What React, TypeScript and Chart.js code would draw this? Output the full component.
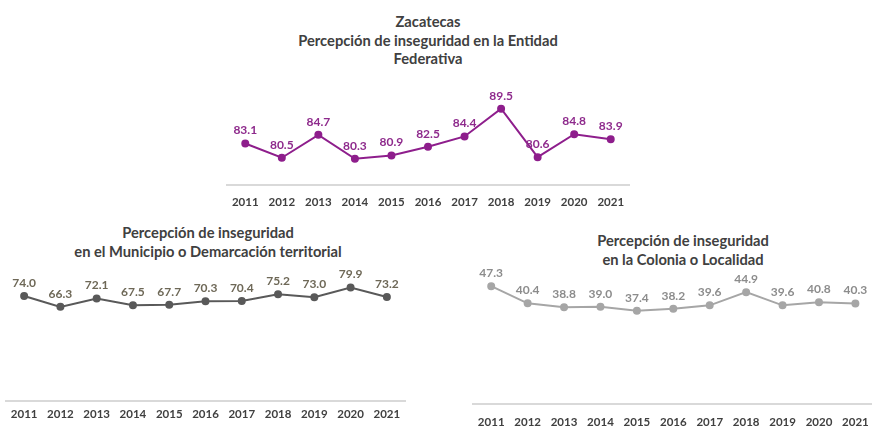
import React, { useEffect, useRef } from "react";
import { Chart, registerables } from "chart.js";

Chart.register(...registerables);

const years = ["2011", "2012", "2013", "2014", "2015", "2016", "2017", "2018", "2019", "2020", "2021"];
const entidadValues = [83.1, 80.5, 84.7, 80.3, 80.9, 82.5, 84.4, 89.5, 80.6, 84.8, 83.9];
const municipioValues = [74.0, 66.3, 72.1, 67.5, 67.7, 70.3, 70.4, 75.2, 73.0, 79.9, 73.2];
const coloniaValues = [47.3, 40.4, 38.8, 39.0, 37.4, 38.2, 39.6, 44.9, 39.6, 40.8, 40.3];

const titleEntidad = ["Zacatecas", "Percepción de inseguridad en la Entidad", "Federativa"];
const titleMunicipio = ["Percepción de inseguridad", "en el Municipio o Demarcación territorial"];
const titleColonia = ["Percepción de inseguridad", "en la Colonia o Localidad"];

const FONT = "Lato, 'Open Sans', sans-serif";

const valueLabels = {
  id: "valueLabels",
  afterDatasetsDraw(chart: any, _args: any, opts: any) {
    const { ctx } = chart;
    chart.data.datasets.forEach((ds: any, i: number) => {
      const meta = chart.getDatasetMeta(i);
      meta.data.forEach((pt: any, j: number) => {
        ctx.save();
        ctx.font = opts.font;
        ctx.fillStyle = opts.color;
        ctx.textAlign = "center";
        ctx.textBaseline = "middle";
        ctx.fillText(Number(ds.data[j]).toFixed(1), pt.x, pt.y - opts.offset);
        ctx.restore();
      });
    });
  },
};

type Props = {
  values: number[];
  color: string;
  labelColor: string;
  min: number;
  max: number;
  padding: { top: number; left: number; right: number; bottom: number };
  tickPadding: number;
  box: { left: number; top: number; width: number; height: number };
};

function LineChart(p: Props) {
  const ref = useRef<HTMLCanvasElement | null>(null);
  useEffect(() => {
    if (!ref.current) return;
    const chart = new Chart(ref.current, {
      type: "line",
      data: {
        labels: years,
        datasets: [
          {
            data: p.values,
            borderColor: p.color,
            backgroundColor: p.color,
            pointBackgroundColor: p.color,
            pointBorderColor: p.color,
            pointRadius: 3,
            borderWidth: 2,
            tension: 0,
          },
        ],
      },
      options: {
        animation: false,
        responsive: true,
        maintainAspectRatio: false,
        layout: { padding: p.padding },
        plugins: {
          legend: { display: false },
          tooltip: { enabled: false },
          title: { display: false },
          valueLabels: { font: `bold 12px ${FONT}`, color: p.labelColor, offset: 13 },
        } as any,
        scales: {
          x: {
            offset: true,
            grid: { display: true, drawOnChartArea: false, drawTicks: false, tickLength: 0 },
            border: { display: true, color: "#D9D9D9", width: 2 },
            ticks: {
              color: "#404040",
              padding: p.tickPadding,
              font: { family: FONT, size: 11.5, weight: "bold", lineHeight: 1.2 },
              maxRotation: 0,
            },
          },
          y: { display: false, min: p.min, max: p.max },
        },
      },
      plugins: [valueLabels as any],
    });
    return () => chart.destroy();
  }, []);
  return (
    <div style={{ position: "absolute", left: p.box.left, top: p.box.top, width: p.box.width, height: p.box.height }}>
      <canvas ref={ref} />
    </div>
  );
}

function Title({ lines, center, top, lineHeight }: { lines: string[]; center: number; top: number; lineHeight: number }) {
  return (
    <div
      style={{
        position: "absolute",
        left: center - 220,
        top,
        width: 440,
        textAlign: "center",
        fontFamily: FONT,
        fontWeight: "bold",
        fontSize: 14.7,
        lineHeight: `${lineHeight}px`,
        color: "#404040",
      }}
    >
      {lines.map((l, i) => (
        <div key={i}>{l}</div>
      ))}
    </div>
  );
}

export default function App() {
  return (
    <div style={{ position: "absolute", left: 0, top: 0, width: 872, height: 428, overflow: "hidden", background: "#fff" }}>
      <Title lines={titleEntidad} center={428} top={12} lineHeight={18.5} />
      <Title lines={titleMunicipio} center={208} top={222.5} lineHeight={19} />
      <Title lines={titleColonia} center={683} top={230.5} lineHeight={19} />
      <LineChart
        values={entidadValues}
        color="#8E1E8C"
        labelColor="#8E2A8C"
        min={75.5}
        max={92}
        padding={{ top: 95, left: 27, right: 31, bottom: 1.2 }}
        tickPadding={10}
        box={{ left: 200, top: 0, width: 460, height: 220 }}
      />
      <LineChart
        values={municipioValues}
        color="#595959"
        labelColor="#6E6857"
        min={0}
        max={100}
        padding={{ top: 49, left: 3, right: 15, bottom: 1.2 }}
        tickPadding={6}
        box={{ left: 0, top: 210, width: 420, height: 218 }}
      />
      <LineChart
        values={coloniaValues}
        color="#A6A6A6"
        labelColor="#8C8C8C"
        min={0}
        max={55}
        padding={{ top: 47, left: 13, right: 5, bottom: 0.2 }}
        tickPadding={11}
        box={{ left: 460, top: 220, width: 420, height: 220 }}
      />
    </div>
  );
}
